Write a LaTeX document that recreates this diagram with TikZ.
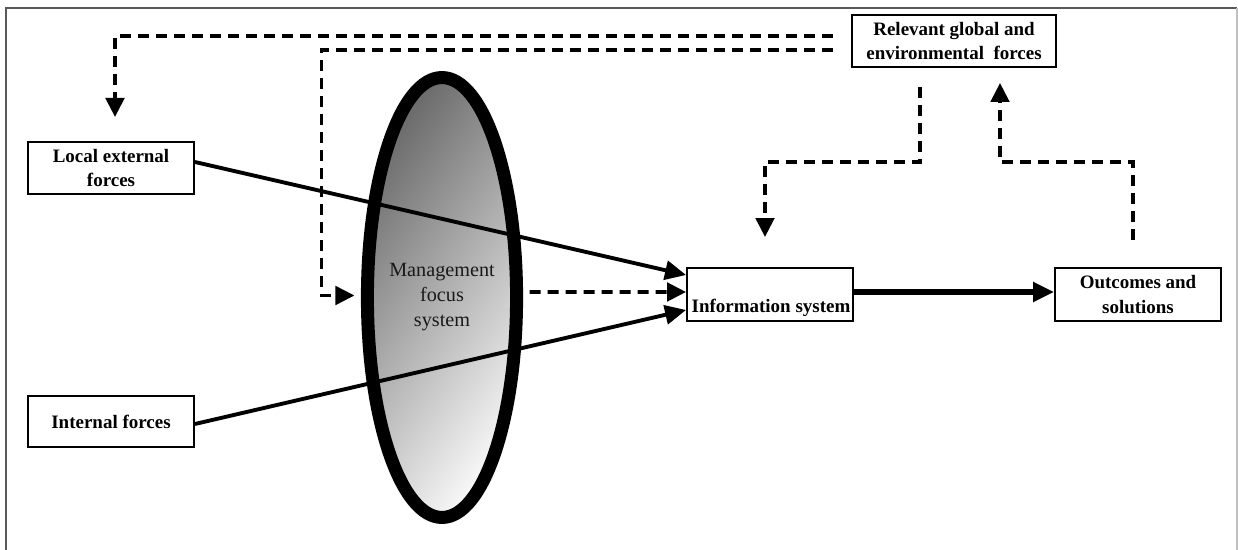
\documentclass[tikz,border=0pt]{standalone}
\usepackage{fontspec}
\setmainfont{Liberation Serif}
\usetikzlibrary{arrows.meta, shapes.geometric}

\begin{document}
\begin{tikzpicture}[x=0.02cm, y=-0.02cm,
		forcebox/.style={draw, line width=1.1pt, align=center, inner sep=0pt, font=\bfseries\fontsize{10.8}{13.7}\selectfont},
		solidarrow/.style={line width=2.2pt, -{Triangle[length=0.42cm, width=0.38cm]}},
		dasharrow/.style={line width=2pt, dash pattern=on 0.22cm off 0.14cm, -{Triangle[length=0.38cm, width=0.37cm]}}]
		\useasboundingbox (0,0) rectangle (1238,550);

		% Frame
		\draw[black!65, line width=1pt] (6,550) -- (6,8) -- (1237,8);
		\draw[black!25, line width=1pt] (1237,8) -- (1237,550);

		% Boxes
		\node[forcebox, minimum width=3.32cm, minimum height=1.04cm] (local) at (111,168) {Local external\\forces};
		\node[forcebox, minimum width=3.32cm, minimum height=1.02cm] (internal) at (111,421.5) {Internal forces};
		\node[forcebox, minimum width=4.08cm, minimum height=1.04cm] (glob) at (954,41) {Relevant global and\\environmental\ \ forces};
		\node[forcebox, minimum width=3.32cm, minimum height=1.06cm] (info) at (770,294.5) {};
		\node[font=\bfseries\fontsize{10.8}{13.7}\selectfont, inner sep=0pt, anchor=base] (infotext) at (771,313) {Information system};
		\node[forcebox, minimum width=3.32cm, minimum height=1.06cm] (out) at (1138,294.5) {Outcomes and\\solutions};

		% Management focus lens
		\node[ellipse, draw, line width=7.4pt, minimum width=2.84cm, minimum height=8.8cm, inner sep=0pt,
			top color=black!58, bottom color=black!3, shading angle=55,
			align=center, text=black!90, font=\fontsize{11.5}{14.2}\selectfont] (mfs) at (442,297.5) {Management\\focus\\system};

		% Solid arrows
		\draw[solidarrow] ([yshift=0.12cm]local.east) -- ([yshift=0.39cm]info.west);
		\draw[solidarrow] ([yshift=-0.05cm]internal.east) -- ([yshift=-0.31cm]info.west);
		\draw[solidarrow, line width=3.2pt] ([yshift=0.05cm]info.east) -- ([yshift=0.05cm]out.west);

		% Dashed feedback paths
		\coordinate (g1) at (833,36);
		\coordinate (t1) at (115,117);
		\coordinate (g2) at (833,50);
		\coordinate (d1) at (920,87);
		\coordinate (d2) at (765,237);
		\coordinate (u1) at (1133,240);
		\coordinate (u2) at (1000,83);

		\draw[dasharrow] (g1) -| (t1);
		\draw[dasharrow] (g2) -| ([xshift=-0.79cm, yshift=0.04cm]mfs.west) -- ([xshift=-0.13cm, yshift=0.04cm]mfs.west);
		\draw[dasharrow] ([xshift=0.13cm, yshift=0.11cm]mfs.east) -- ([yshift=0.05cm]info.west);
		\draw[dasharrow] (d1) -- ++(0,75) -| (d2);
		\draw[dasharrow] (u1) -- ++(0,-78) -| (u2);
	\end{tikzpicture}
\end{document}
